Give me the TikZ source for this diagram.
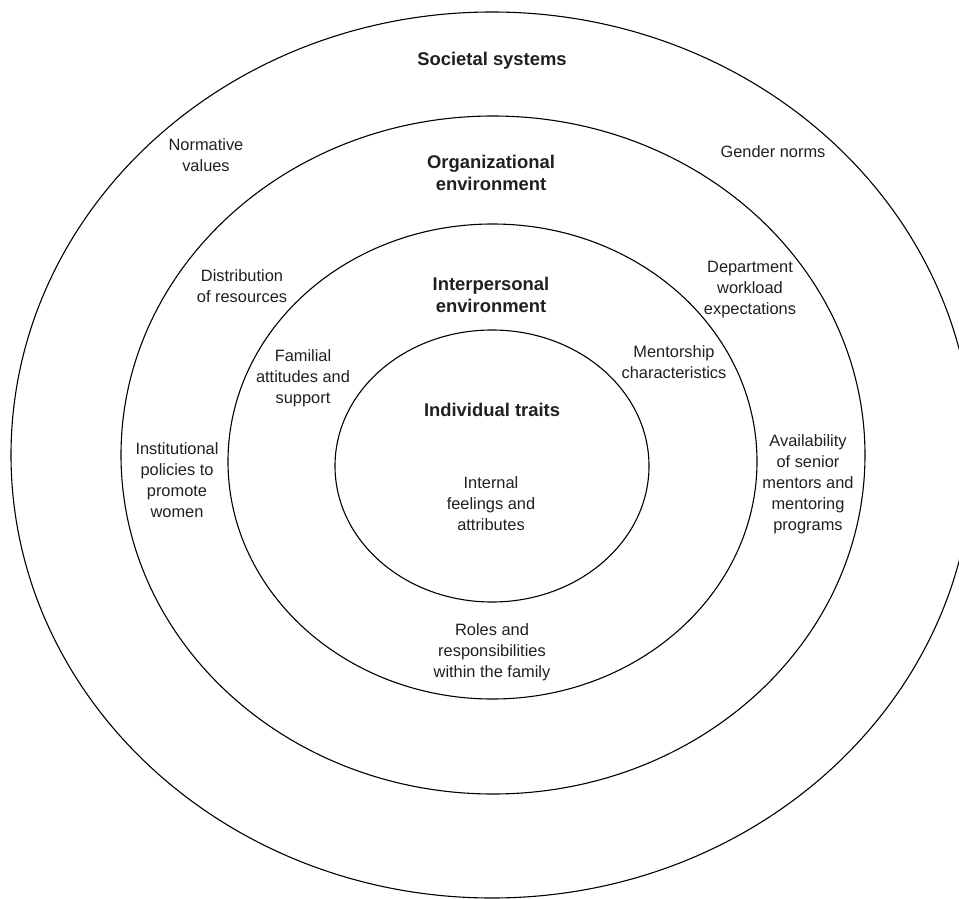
\documentclass[tikz,border=0pt]{standalone}
\usepackage{fontspec}
\setmainfont{Liberation Sans}
\begin{document}
\begin{tikzpicture}[x=1pt,y=-1pt,
  ring/.style={draw=black,line width=1.1pt},
  lbl/.style={align=center,text=txtcol,inner sep=0pt,font=\fontsize{16.4}{21}\selectfont},
  hdr/.style={align=center,text=txtcol,inner sep=0pt,font=\bfseries\fontsize{18.4}{22}\selectfont}]
\definecolor{txtcol}{HTML}{231F20}
\clip (0,0) rectangle (959,899);
\fill[white] (0,0) rectangle (959,899);
% rings
\draw[ring] (492,455) ellipse [x radius=481, y radius=443];
\draw[ring] (493,455) ellipse [x radius=372, y radius=339];
\draw[ring] (492.5,461.5) ellipse [x radius=264.5, y radius=237.5];
\draw[ring] (492,466) ellipse [x radius=157, y radius=136];
% headings
\node[hdr] (soc) at (492,61) {Societal systems};
\node[hdr] (org) at (491,172.5) {Organizational\\environment};
\node[hdr] (int) at (491,295) {Interpersonal\\environment};
\node[hdr] (ind) at (492,410) {Individual traits};
% societal labels
\node[lbl] (norm) at (206,155.5) {Normative\\values};
\node[lbl] (gend) at (773,152) {Gender norms};
% organizational labels
\node[lbl] (dist) at (242,286) {Distribution\\of resources};
\node[lbl] (dept) at (750,289.5) {Department\\workload\\expectations};
\node[lbl] (inst) at (177,480) {Institutional\\policies to\\promote\\women};
\node[lbl] (avail) at (808,484) {Availability\\of senior\\mentors and\\mentoring\\programs};
% interpersonal labels
\node[lbl] (fam) at (303,378) {Familial\\attitudes and\\support};
\node[lbl] (ment) at (674,362) {Mentorship\\characteristics};
\node[lbl] (roles) at (492,652) {Roles and\\responsibilities\\within the family};
% individual label
\node[lbl] (feel) at (491,504) {Internal\\feelings and\\attributes};
\end{tikzpicture}
\end{document}
